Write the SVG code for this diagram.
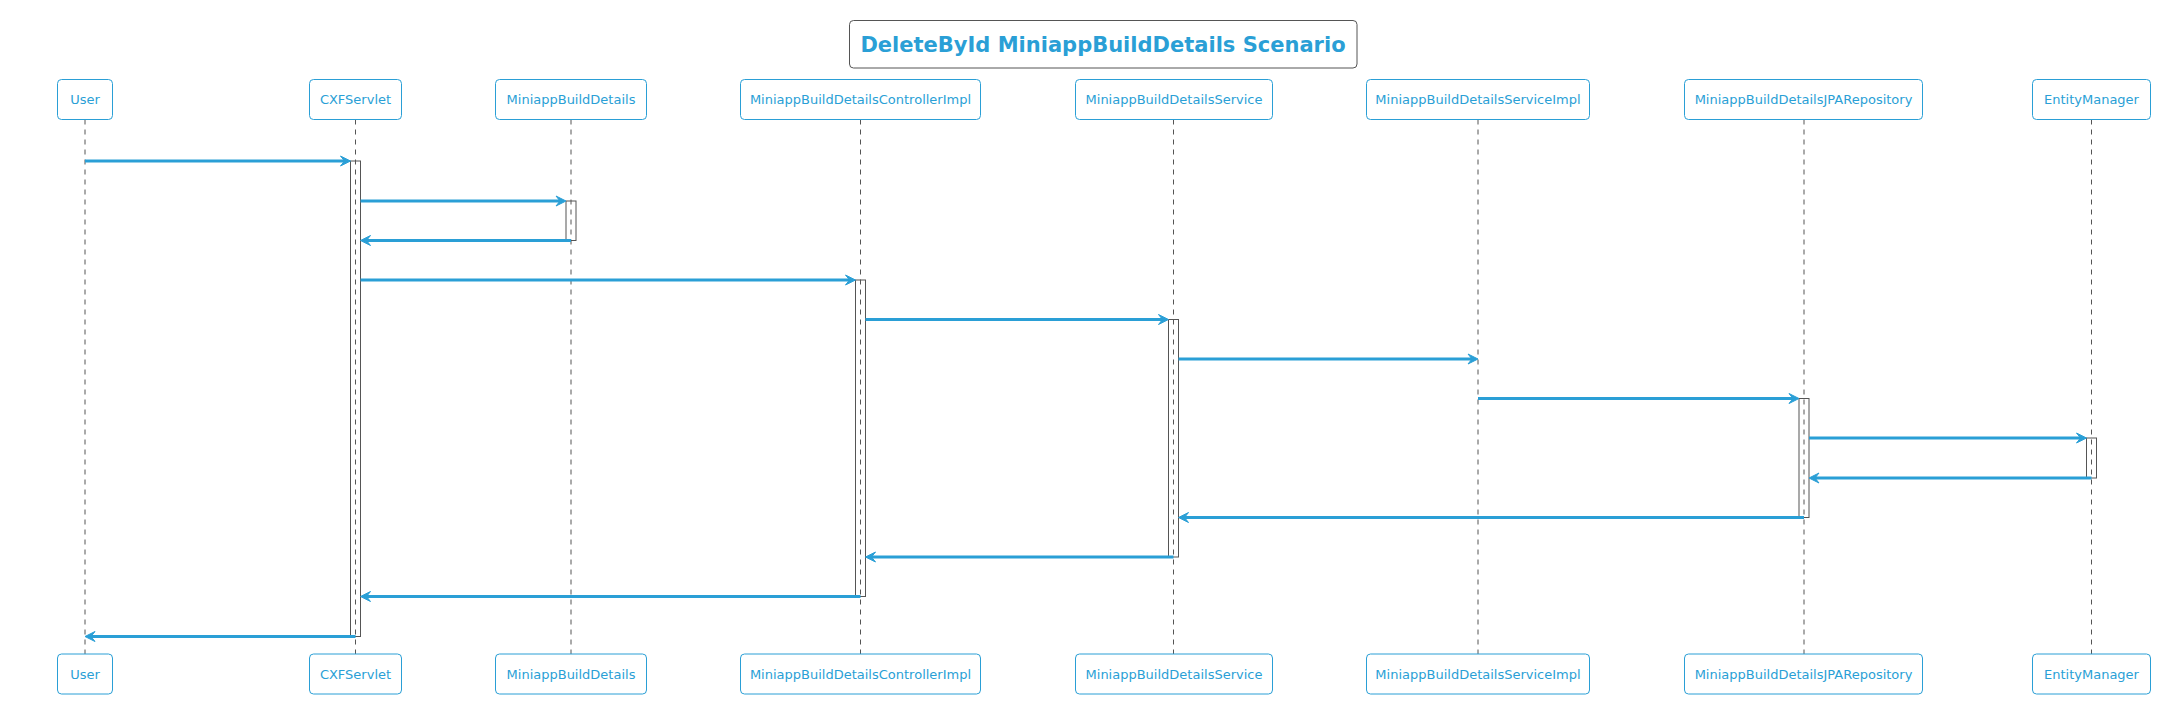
<svg xmlns="http://www.w3.org/2000/svg" width="2161" height="703" viewBox="0 0 2161 703">
<style>
.box{fill:#ffffff;stroke:#2A9FD6;stroke-width:1}
.lbl{font-family:"DejaVu Sans",sans-serif;font-size:13px;fill:#2A9FD6;text-anchor:middle}
.life{stroke:#555555;stroke-width:1;stroke-dasharray:5,5;fill:none}
.act{fill:#ffffff;stroke:#555555;stroke-width:1}
.msg{stroke:#2A9FD6;stroke-width:3;fill:none;marker-end:url(#ah)}
.title{font-family:"DejaVu Sans",sans-serif;font-size:21px;font-weight:bold;fill:#2A9FD6;text-anchor:middle}
</style>
<defs>
<marker id="ah" markerUnits="userSpaceOnUse" markerWidth="14" markerHeight="14" viewBox="-2 -7 14 14" refX="5" refY="0" orient="auto" overflow="visible">
<path d="M0,-5 L10,0 L0,5 L4,0 Z" fill="#2A9FD6" stroke="#2A9FD6" stroke-width="1"/>
</marker>
</defs>
<rect width="2161" height="703" fill="#ffffff"/>
<g id="title">
<rect x="849.5" y="20.5" width="507.5" height="47.5" rx="4" fill="#ffffff" stroke="#555555" stroke-width="1"/>
<text class="title" x="1103" y="52">DeleteById MiniappBuildDetails Scenario</text>
</g>
<g id="User">
<line class="life" x1="85" y1="119.5" x2="85" y2="654"/>
<rect class="box" x="57.5" y="79.5" width="55" height="40" rx="4"/>
<text class="lbl" x="85" y="104">User</text>
<rect class="box" x="57.5" y="654" width="55" height="40" rx="4"/>
<text class="lbl" x="85" y="678.5">User</text>
</g>
<g id="CXFServlet">
<rect class="act" x="350.5" y="161" width="10" height="475.5"/>
<line class="life" x1="355.5" y1="119.5" x2="355.5" y2="654"/>
<rect class="box" x="309.5" y="79.5" width="92" height="40" rx="4"/>
<text class="lbl" x="355.5" y="104">CXFServlet</text>
<rect class="box" x="309.5" y="654" width="92" height="40" rx="4"/>
<text class="lbl" x="355.5" y="678.5">CXFServlet</text>
</g>
<g id="MiniappBuildDetails">
<rect class="act" x="566" y="201" width="10" height="39.5"/>
<line class="life" x1="571" y1="119.5" x2="571" y2="654"/>
<rect class="box" x="495.5" y="79.5" width="151" height="40" rx="4"/>
<text class="lbl" x="571" y="104">MiniappBuildDetails</text>
<rect class="box" x="495.5" y="654" width="151" height="40" rx="4"/>
<text class="lbl" x="571" y="678.5">MiniappBuildDetails</text>
</g>
<g id="MiniappBuildDetailsControllerImpl">
<rect class="act" x="855.5" y="280" width="10" height="316.5"/>
<line class="life" x1="860.5" y1="119.5" x2="860.5" y2="654"/>
<rect class="box" x="740.5" y="79.5" width="240" height="40" rx="4"/>
<text class="lbl" x="860.5" y="104">MiniappBuildDetailsControllerImpl</text>
<rect class="box" x="740.5" y="654" width="240" height="40" rx="4"/>
<text class="lbl" x="860.5" y="678.5">MiniappBuildDetailsControllerImpl</text>
</g>
<g id="MiniappBuildDetailsService">
<rect class="act" x="1168.5" y="319.5" width="10" height="237.5"/>
<line class="life" x1="1173.5" y1="119.5" x2="1173.5" y2="654"/>
<rect class="box" x="1075.5" y="79.5" width="197" height="40" rx="4"/>
<text class="lbl" x="1174" y="104">MiniappBuildDetailsService</text>
<rect class="box" x="1075.5" y="654" width="197" height="40" rx="4"/>
<text class="lbl" x="1174" y="678.5">MiniappBuildDetailsService</text>
</g>
<g id="MiniappBuildDetailsServiceImpl">
<line class="life" x1="1478" y1="119.5" x2="1478" y2="654"/>
<rect class="box" x="1366.5" y="79.5" width="223" height="40" rx="4"/>
<text class="lbl" x="1478" y="104">MiniappBuildDetailsServiceImpl</text>
<rect class="box" x="1366.5" y="654" width="223" height="40" rx="4"/>
<text class="lbl" x="1478" y="678.5">MiniappBuildDetailsServiceImpl</text>
</g>
<g id="MiniappBuildDetailsJPARepository">
<rect class="act" x="1799" y="398.5" width="10" height="119"/>
<line class="life" x1="1804" y1="119.5" x2="1804" y2="654"/>
<rect class="box" x="1684.5" y="79.5" width="238" height="40" rx="4"/>
<text class="lbl" x="1803.5" y="104">MiniappBuildDetailsJPARepository</text>
<rect class="box" x="1684.5" y="654" width="238" height="40" rx="4"/>
<text class="lbl" x="1803.5" y="678.5">MiniappBuildDetailsJPARepository</text>
</g>
<g id="EntityManager">
<rect class="act" x="2086.5" y="438" width="10" height="40"/>
<line class="life" x1="2091.5" y1="119.5" x2="2091.5" y2="654"/>
<rect class="box" x="2032.5" y="79.5" width="118" height="40" rx="4"/>
<text class="lbl" x="2091.5" y="104">EntityManager</text>
<rect class="box" x="2032.5" y="654" width="118" height="40" rx="4"/>
<text class="lbl" x="2091.5" y="678.5">EntityManager</text>
</g>
<g id="connectors">
<line class="msg" x1="85" y1="161" x2="345.5" y2="161"/>
<line class="msg" x1="360.5" y1="201" x2="561" y2="201"/>
<line class="msg" x1="571" y1="240.5" x2="365.5" y2="240.5"/>
<line class="msg" x1="360.5" y1="280" x2="850.5" y2="280"/>
<line class="msg" x1="865.5" y1="319.5" x2="1163.5" y2="319.5"/>
<line class="msg" x1="1178.5" y1="359" x2="1473" y2="359"/>
<line class="msg" x1="1478" y1="398.5" x2="1794" y2="398.5"/>
<line class="msg" x1="1809" y1="438" x2="2081.5" y2="438"/>
<line class="msg" x1="2091.5" y1="478" x2="1814" y2="478"/>
<line class="msg" x1="1804" y1="517.5" x2="1183.5" y2="517.5"/>
<line class="msg" x1="1173.5" y1="557" x2="870.5" y2="557"/>
<line class="msg" x1="860.5" y1="596.5" x2="365.5" y2="596.5"/>
<line class="msg" x1="355.5" y1="636.5" x2="90" y2="636.5"/>
</g>
</svg>
